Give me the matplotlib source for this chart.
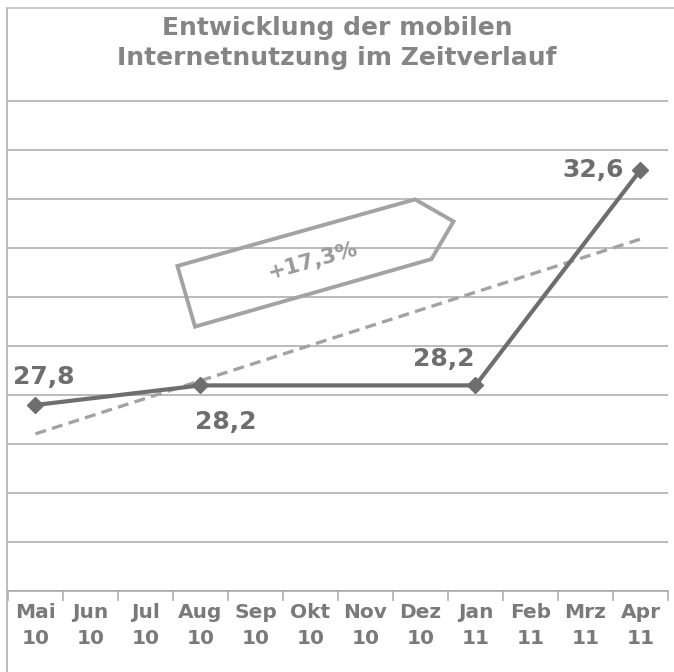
import matplotlib.pyplot as plt
import numpy as np
from matplotlib.patches import Polygon
from matplotlib.lines import Line2D

# months on the x axis (two-line labels)
months = ['Mai', 'Jun', 'Jul', 'Aug', 'Sep', 'Okt', 'Nov', 'Dez', 'Jan', 'Feb', 'Mrz', 'Apr']
years = ['10', '10', '10', '10', '10', '10', '10', '10', '11', '11', '11', '11']

# measured points and values
point_months = ['Mai', 'Aug', 'Jan', 'Apr']
point_values = [27.8, 28.2, 28.2, 32.6]
point_labels = ['27,8', '28,2', '28,2', '32,6']
growth_label = '+17,3%'

title = 'Entwicklung der mobilen\nInternetnutzung im Zeitverlauf'

line_col = '#6e6e6e'
trend_col = '#a3a3a3'
grid_col = '#a8a8a8'
text_col = '#7a7a7a'

fig = plt.figure(figsize=(6.74, 6.72), dpi=100)
ax = fig.add_axes([8 / 674, 81 / 672, 660 / 674, 491 / 672])

x = np.array([months.index(m) for m in point_months])
y = np.array(point_values)

# linear trend line like the spreadsheet trendline
slope, icpt = np.polyfit(x, y, 1)
xt = np.array([0, len(months) - 1])
ax.plot(xt, slope * xt + icpt, color=trend_col, lw=2.4, ls=(0, (3.3, 1.9)), zorder=2)

ax.plot(x, y, color=line_col, lw=3, marker='D', markersize=8, zorder=3)

# data labels (offset in points, alignment)
offsets = [(-16, 20, 'left'), (-4, -26, 'left'), (-1, 19, 'right'), (-12, 0, 'right')]
for xi, yi, lab, (dx, dy, ha) in zip(x, y, point_labels, offsets):
    ax.annotate(lab, (xi, yi), xytext=(dx, dy), textcoords='offset points',
                ha=ha, va='center', fontsize=18, fontweight='bold', color=line_col)

# growth arrow box
shape = [(2.58, 30.64), (6.9, 32.0), (7.6, 31.55), (7.2, 30.78), (2.9, 29.4)]
ax.add_patch(Polygon(shape, closed=True, fill=False, edgecolor=trend_col, lw=2.8, zorder=2))
ax.text(5.05, 30.74, growth_label, rotation=15.5, rotation_mode='anchor', ha='center', va='center',
        fontsize=15.5, fontweight='bold', color='#9a9a9a')

ax.set_xlim(-0.5, len(months) - 0.5)
ax.set_ylim(24, 34.03)
ax.set_yticks(range(24, 35))
ax.grid(axis='y', color=grid_col, lw=1.1)
ax.set_axisbelow(True)
ax.tick_params(axis='y', left=False, labelleft=False)

ax.set_xticks(np.arange(len(months)))
ax.set_xticklabels([m + '\n' + yy for m, yy in zip(months, years)], fontsize=14.5,
                   fontweight='bold', color=text_col, linespacing=1.4)
ax.set_xticks(np.arange(len(months) + 1) - 0.5, minor=True)
ax.tick_params(axis='x', which='major', length=0, pad=9)
ax.tick_params(axis='x', which='minor', length=7, color=grid_col, width=1.1)

for s in ['top', 'left', 'right']:
    ax.spines[s].set_visible(False)
ax.spines['bottom'].set_color(grid_col)
ax.spines['bottom'].set_linewidth(1.1)

fig.text(0.5, 1 - 43 / 672, title, ha='center', va='center', fontsize=18,
         fontweight='bold', color='#858585', linespacing=1.3)

# outer chart frame
fig.add_artist(Line2D([7 / 674, 7 / 674], [0, 1 - 8 / 672], color='#b0b0b0', lw=1.2))
fig.add_artist(Line2D([7 / 674, 1], [1 - 8 / 672, 1 - 8 / 672], color='#c0c0c0', lw=1.2))

fig.savefig('out.png', dpi=100, facecolor='white')
